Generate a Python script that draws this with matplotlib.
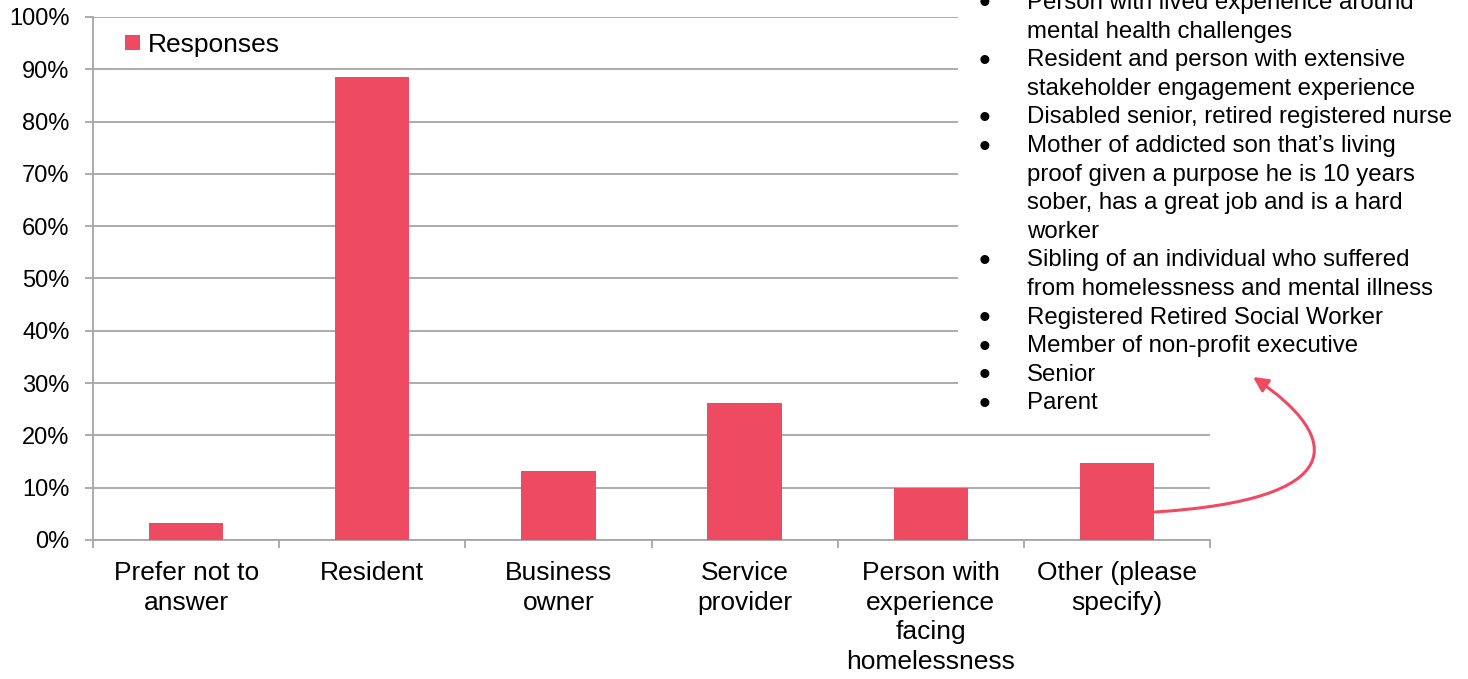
"""Respondent type bar chart with the 'Other' breakdown as a bullet list."""

import matplotlib.pyplot as plt
from matplotlib.patches import FancyArrowPatch, Rectangle
from matplotlib.path import Path

categories = [
    "Prefer not to\nanswer",
    "Resident",
    "Business\nowner",
    "Service\nprovider",
    "Person with\nexperience\nfacing\nhomelessness",
    "Other (please\nspecify)",
]
responses = [3.3, 88.6, 13.1, 26.2, 9.9, 14.7]
y_ticks = [0, 10, 20, 30, 40, 50, 60, 70, 80, 90, 100]

other_items = [
    ["Person with lived experience around", "mental health challenges"],
    ["Resident and person with extensive", "stakeholder engagement experience"],
    ["Disabled senior, retired registered nurse"],
    ["Mother of addicted son that\u2019s living", "proof given a purpose he is 10 years",
     "sober, has a great job and is a hard", "worker"],
    ["Sibling of an individual who suffered", "from homelessness and mental illness"],
    ["Registered Retired Social Worker"],
    ["Member of non-profit executive"],
    ["Senior"],
    ["Parent"],
]

BAR = "#EE4A62"
GRID = "#A6A6A6"
W, H = 1468, 679

plt.rcParams["font.family"] = ["Liberation Sans", "DejaVu Sans"]

fig = plt.figure(figsize=(W / 100, H / 100), dpi=100)
ax = fig.add_axes([93 / W, 1 - 540 / H, (1210 - 93) / W, (540 - 17) / H])

x = list(range(len(categories)))
ax.bar(x, responses, width=0.4, color=BAR, label="Responses", zorder=3)
ax.set_xlim(-0.5, len(categories) - 0.5)
ax.set_ylim(0, 100)
ax.set_yticks(y_ticks)
ax.set_yticklabels([f"{t}%" for t in y_ticks], fontsize=17)
ax.yaxis.grid(True, color=GRID, linewidth=1.3)
ax.set_axisbelow(True)

ax.set_xticks(x)
ax.set_xticklabels(categories, fontsize=19, linespacing=1.3)
ax.set_xticks([i - 0.5 for i in range(len(categories) + 1)], minor=True)
ax.tick_params(axis="x", which="major", length=0, pad=15)
ax.tick_params(axis="x", which="minor", length=6, color=GRID, width=1.3)
ax.tick_params(axis="y", length=6, color=GRID, width=1.3, pad=11)

for side in ["top", "right"]:
    ax.spines[side].set_visible(False)
for side in ["left", "bottom"]:
    ax.spines[side].set_color(GRID)
    ax.spines[side].set_linewidth(1.3)

ax.legend(loc="upper left", frameon=False, fontsize=19, handlelength=0.55,
          handleheight=0.55, handletextpad=0.3, borderaxespad=0.4,
          bbox_to_anchor=(0.01, 1.01))

# white box with the breakdown of "Other" answers
fig.patches.append(Rectangle((958 / W, 1 - 420 / H), (W - 958) / W, 420 / H,
                             transform=fig.transFigure, facecolor="white",
                             edgecolor="none", zorder=2))
line_y = 3
step = 28.6
for item in other_items:
    fig.text(984 / W, 1 - (line_y + 2) / H, "\u2022", fontsize=24, ha="center",
             va="center", zorder=4)
    for line in item:
        fig.text(1027 / W, 1 - line_y / H, line, fontsize=17.3, ha="left",
                 va="center", zorder=4)
        line_y += step

# curved arrow from the "Other" bar to the list
pts = [(1155, 512), (1346, 500), (1346, 440), (1253, 377)]
path = Path([(px / W, 1 - py / H) for px, py in pts],
            [Path.MOVETO, Path.CURVE4, Path.CURVE4, Path.CURVE4])
fig.patches.append(FancyArrowPatch(path=path, arrowstyle="-|>", mutation_scale=22,
                                   color=BAR, linewidth=2.2,
                                   transform=fig.transFigure, zorder=5))

fig.savefig("out.png", dpi=100)
